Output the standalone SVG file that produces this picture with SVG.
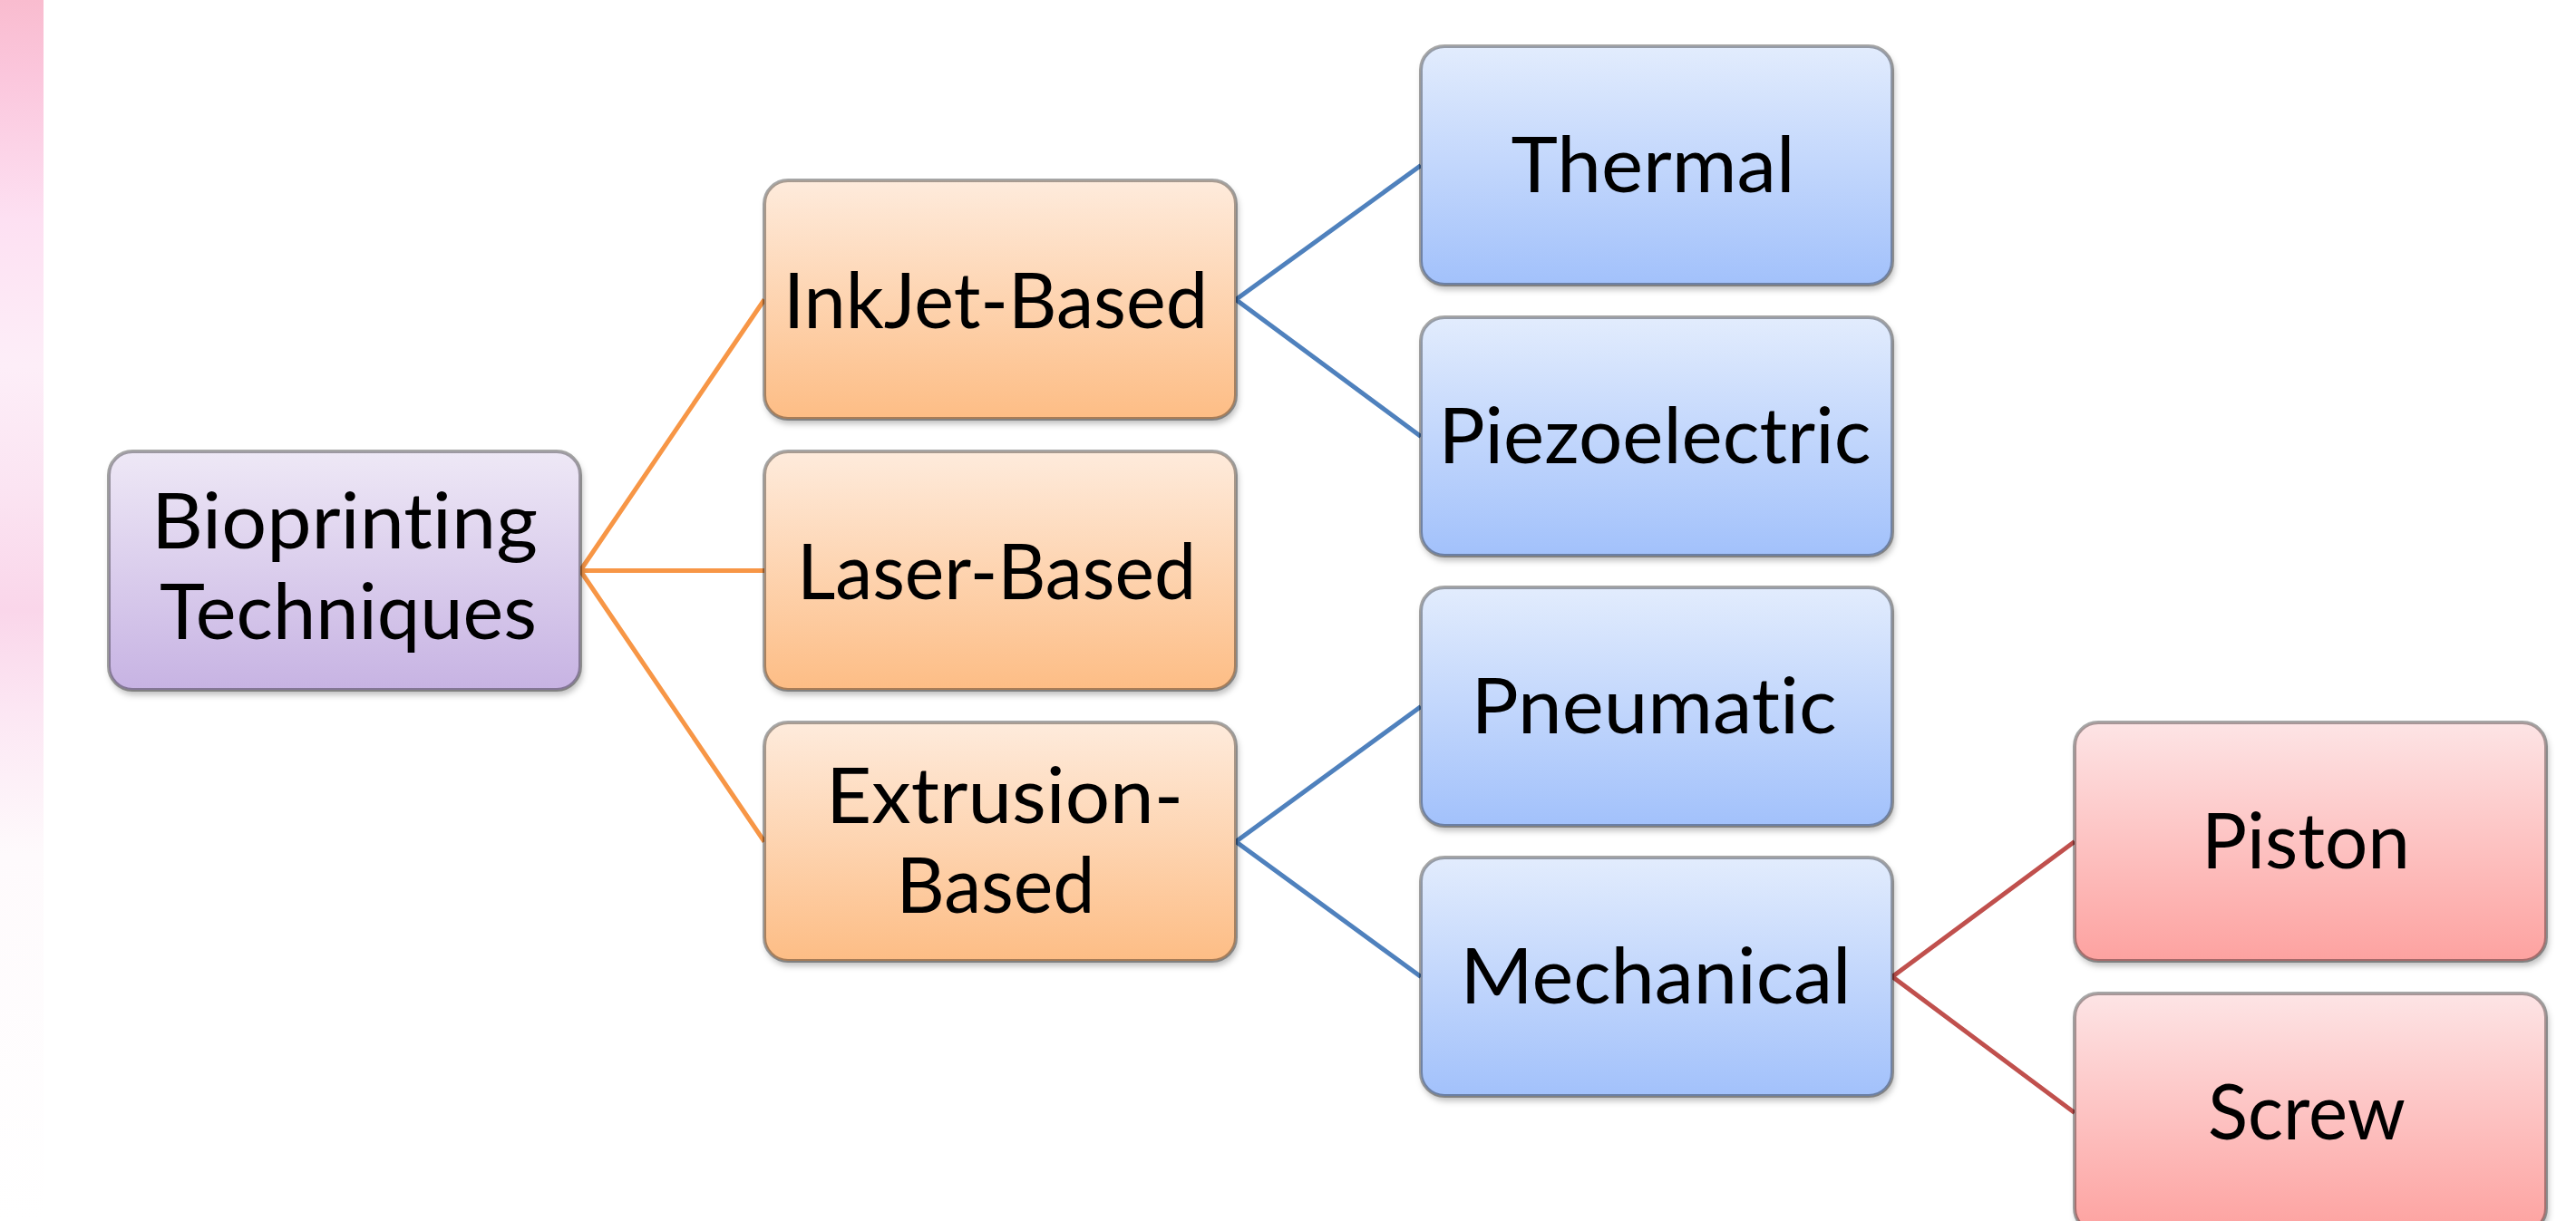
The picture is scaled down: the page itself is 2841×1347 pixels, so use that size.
<svg xmlns="http://www.w3.org/2000/svg" width="2841" height="1347" viewBox="0 0 2841 1347">
  <style>
    .box { stroke: #000; stroke-opacity: 0.34; stroke-width: 4; filter: url(#shadow); }
    .lbl { font-family: Lato, "Liberation Sans", sans-serif; font-size: 86px; fill: #000; text-anchor: middle; font-variant-ligatures: none; font-feature-settings: "liga" 0; }
    .c-or { stroke: #f79646; stroke-width: 5; fill: none; }
    .c-bl { stroke: #4f81bd; stroke-width: 5; fill: none; }
    .c-rd { stroke: #c0504d; stroke-width: 5; fill: none; }
  </style>
  <defs>
    <linearGradient id="gPurple" x1="0" y1="0" x2="0" y2="1">
      <stop offset="0" stop-color="#eee8f6"/>
      <stop offset="1" stop-color="#c7b3e3"/>
    </linearGradient>
    <linearGradient id="gOrange" x1="0" y1="0" x2="0" y2="1">
      <stop offset="0" stop-color="#feebdc"/>
      <stop offset="1" stop-color="#fdbd85"/>
    </linearGradient>
    <linearGradient id="gBlue" x1="0" y1="0" x2="0" y2="1">
      <stop offset="0" stop-color="#e2ecfd"/>
      <stop offset="1" stop-color="#a2c1fb"/>
    </linearGradient>
    <linearGradient id="gRed" x1="0" y1="0" x2="0" y2="1">
      <stop offset="0" stop-color="#fde4e5"/>
      <stop offset="1" stop-color="#fda2a0"/>
    </linearGradient>
    <linearGradient id="gStrip" x1="0" y1="0" x2="0" y2="1">
      <stop offset="0" stop-color="#f9bccf"/>
      <stop offset="0.06" stop-color="#fbc6dc"/>
      <stop offset="0.18" stop-color="#fde0f2"/>
      <stop offset="0.3" stop-color="#fdeef8"/>
      <stop offset="0.4" stop-color="#fbe4f2"/>
      <stop offset="0.5" stop-color="#fad6ea"/>
      <stop offset="0.58" stop-color="#fce6f3"/>
      <stop offset="0.7" stop-color="#fefafc"/>
      <stop offset="1" stop-color="#ffffff"/>
    </linearGradient>
    <filter id="shadow" x="-5%" y="-5%" width="115%" height="120%">
      <feDropShadow dx="2" dy="5" stdDeviation="3" flood-color="#000" flood-opacity="0.25"/>
    </filter>
  </defs>
  <rect x="0" y="0" width="2841" height="1347" fill="#ffffff"/>
  <rect id="bg-strip" x="0" y="0" width="48" height="1347" fill="url(#gStrip)"/>

  <g id="connectors">
    <path class="c-or" d="M640,629.5 L843,330.5 M640,629.5 L843,629.5 M640,629.5 L843,928.5"/>
    <path class="c-bl" d="M1363,330.5 L1567,182.5 M1363,330.5 L1567,481.5"/>
    <path class="c-bl" d="M1363,928.5 L1567,779.5 M1363,928.5 L1567,1077.5"/>
    <path class="c-rd" d="M2087,1077.5 L2288,928.5 M2087,1077.5 L2288,1227.5"/>
  </g>

  <g id="bioprinting">
    <rect class="box" x="120" y="498" width="520" height="263" rx="26" fill="url(#gPurple)"/>
    <text class="lbl" x="380" y="605" textLength="426" lengthAdjust="spacingAndGlyphs">Bioprinting</text>
    <text class="lbl" x="384" y="705" textLength="416" lengthAdjust="spacingAndGlyphs">Techniques</text>
  </g>
  <g id="inkjet">
    <rect class="box" x="843" y="199" width="520" height="263" rx="26" fill="url(#gOrange)"/>
    <text class="lbl" x="1098" y="362" textLength="468" lengthAdjust="spacingAndGlyphs">InkJet-Based</text>
  </g>
  <g id="laser">
    <rect class="box" x="843" y="498" width="520" height="263" rx="26" fill="url(#gOrange)"/>
    <text class="lbl" x="1099" y="661" textLength="440" lengthAdjust="spacingAndGlyphs">Laser-Based</text>
  </g>
  <g id="extrusion">
    <rect class="box" x="843" y="797" width="520" height="263" rx="26" fill="url(#gOrange)"/>
    <text class="lbl" x="1108" y="908" textLength="394" lengthAdjust="spacingAndGlyphs">Extrusion-</text>
    <text class="lbl" x="1098" y="1007" textLength="219" lengthAdjust="spacingAndGlyphs">Based</text>
  </g>
  <g id="thermal">
    <rect class="box" x="1567" y="51" width="520" height="263" rx="26" fill="url(#gBlue)"/>
    <text class="lbl" x="1823" y="212" textLength="313" lengthAdjust="spacingAndGlyphs">Thermal</text>
  </g>
  <g id="piezoelectric">
    <rect class="box" x="1567" y="350" width="520" height="263" rx="26" fill="url(#gBlue)"/>
    <text class="lbl" x="1825" y="511" textLength="477" lengthAdjust="spacingAndGlyphs">Piezoelectric</text>
  </g>
  <g id="pneumatic">
    <rect class="box" x="1567" y="648" width="520" height="263" rx="26" fill="url(#gBlue)"/>
    <text class="lbl" x="1824" y="809" textLength="403" lengthAdjust="spacingAndGlyphs">Pneumatic</text>
  </g>
  <g id="mechanical">
    <rect class="box" x="1567" y="946" width="520" height="263" rx="26" fill="url(#gBlue)"/>
    <text class="lbl" x="1826" y="1107" textLength="431" lengthAdjust="spacingAndGlyphs">Mechanical</text>
  </g>
  <g id="piston">
    <rect class="box" x="2288" y="797" width="520" height="263" rx="26" fill="url(#gRed)"/>
    <text class="lbl" x="2543" y="958" textLength="230" lengthAdjust="spacingAndGlyphs">Piston</text>
  </g>
  <g id="screw">
    <rect class="box" x="2288" y="1096" width="520" height="263" rx="26" fill="url(#gRed)"/>
    <text class="lbl" x="2544" y="1257" textLength="218" lengthAdjust="spacingAndGlyphs">Screw</text>
  </g>
</svg>
